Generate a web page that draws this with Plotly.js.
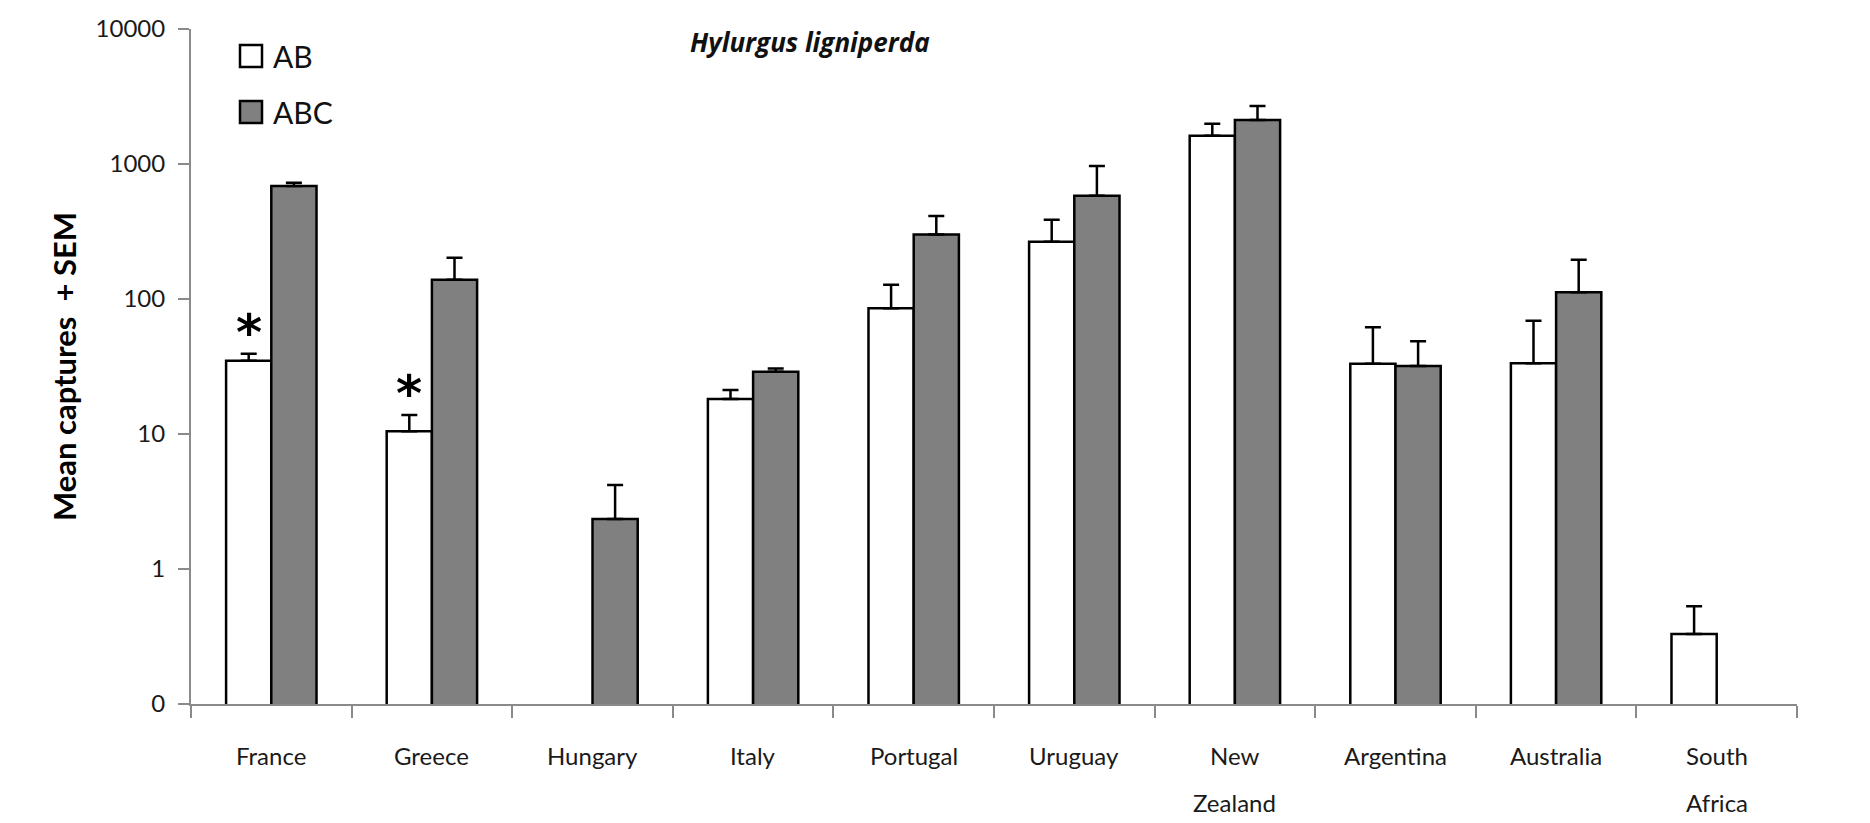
<!DOCTYPE html>
<html>
<head>
<meta charset="utf-8">
<script src="https://cdn.plot.ly/plotly-3.0.1.min.js"></script>
<style>
  html, body { margin: 0; padding: 0; background: #ffffff; }
  #chart { width: 1870px; height: 823px; }
</style>
</head>
<body>
<div id="chart"></div>
<script>
// ---- data ----
const categories = ["France", "Greece", "Hungary", "Italy", "Portugal", "Uruguay", "New Zealand", "Argentina", "Australia", "South Africa"];
const tickLabelLines = [["France"], ["Greece"], ["Hungary"], ["Italy"], ["Portugal"], ["Uruguay"], ["New", "Zealand"], ["Argentina"], ["Australia"], ["South", "Africa"]];
const abMean = [34.9, 10.5, null, 18.2, 85.3, 266, 1622, 33.2, 33.4, 0.33];
const abSem  = [4.4, 3.3, null, 3.0, 42, 121, 368, 28.5, 35.7, 0.2];
const abcMean = [687, 139, 2.35, 28.9, 301, 582, 2118, 31.9, 112, null];
const abcSem  = [40, 63, 1.84, 1.6, 111, 385, 572, 16.7, 83, null];
const yTickVals = [0.1, 1, 10, 100, 1000, 10000];
const yTickText = ["0", "1", "10", "100", "1000", "10000"];
const significant = ["France", "Greece"]; // AB marked with *
const seriesNames = ["AB", "ABC"];
const chartTitle = "Hylurgus ligniperda";
const yTitle = "Mean captures\u00a0 + SEM";

const FONT = "Lato, 'Noto Sans', sans-serif";
const AXIS = "#8a8a8a";

function zeros(arr) { return arr.map(v => (v === null ? null : 0)); }

const traceAB = {
  type: "bar", name: seriesNames[0], x: categories, y: abMean,
  marker: { color: "#ffffff", line: { color: "#000000", width: 2.5 } },
  error_y: { type: "data", symmetric: false, array: abSem, arrayminus: zeros(abSem),
             color: "#000000", thickness: 2.5, width: 8 },
  showlegend: false, hoverinfo: "x+y"
};
const traceABC = {
  type: "bar", name: seriesNames[1], x: categories, y: abcMean,
  marker: { color: "#808080", line: { color: "#000000", width: 2.5 } },
  error_y: { type: "data", symmetric: false, array: abcSem, arrayminus: zeros(abcSem),
             color: "#000000", thickness: 2.5, width: 8 },
  showlegend: false, hoverinfo: "x+y"
};

const W = 1870, H = 823;
const M = { l: 191, r: 73, t: 29, b: 119 };
const pw = W - M.l - M.r, ph = H - M.t - M.b;
function px(xp) { return (xp - M.l) / pw; }
function py(yp) { return (H - M.b - yp) / ph; }

const annotations = [];
const shapes = [];
// x category labels (multi-line with wide spacing)
tickLabelLines.forEach((lines, i) => {
  lines.forEach((line, j) => {
    annotations.push({
      x: categories[i], xref: "x", y: 0, yref: "paper",
      yanchor: "middle", xanchor: "center", yshift: -51 - j * 47,
      text: line, showarrow: false,
      font: { family: FONT, size: 24, color: "#1a1a1a" }
    });
  });
});
// significance asterisks above AB error bars
significant.forEach(c => {
  const i = categories.indexOf(c);
  annotations.push({
    x: c, xref: "x", xshift: -22.6,
    y: Math.log10(abMean[i] + abSem[i]), yref: "y",
    yanchor: "middle", xanchor: "center", yshift: 21,
    text: "*", showarrow: false,
    font: { family: "'DejaVu Sans', sans-serif", size: 50, color: "#000000", weight: "bold" }
  });
});
// title
annotations.push({
  x: px(810), xref: "paper", y: py(42), yref: "paper",
  xanchor: "center", yanchor: "middle",
  text: "<b><i>" + chartTitle + "</i></b>", showarrow: false,
  font: { family: "'Open Sans', sans-serif", size: 26, color: "#111111" }
});
// legend
const legendColors = ["#ffffff", "#808080"];
seriesNames.forEach((n, k) => {
  const cy = 56 + k * 56;
  annotations.push({
    xref: "paper", yref: "paper", x: px(271), y: py(cy), xanchor: "left", yanchor: "middle",
    text: n, showarrow: false,
    font: { family: FONT, size: 30, color: "#111111" }
  });
  shapes.push({ type: "rect", xref: "paper", yref: "paper",
    x0: px(240), x1: px(262), y0: py(cy + 11), y1: py(cy - 11),
    fillcolor: legendColors[k], line: { color: "#000000", width: 2.5 } });
});

const layout = {
  width: W, height: H,
  margin: M,
  paper_bgcolor: "#ffffff", plot_bgcolor: "#ffffff",
  barmode: "group", bargap: 0.437, bargroupgap: 0,
  showlegend: false,
  font: { family: FONT, color: "#1a1a1a" },
  xaxis: {
    type: "category", showgrid: false, zeroline: false,
    showline: true, linecolor: AXIS, linewidth: 2,
    ticks: "outside", tickson: "boundaries", ticklen: 12, tickwidth: 2, tickcolor: AXIS,
    showticklabels: false, fixedrange: true
  },
  yaxis: {
    type: "log", range: [-1, 4], showgrid: false, zeroline: false,
    showline: true, linecolor: AXIS, linewidth: 2,
    ticks: "outside", ticklen: 11, tickwidth: 2, tickcolor: AXIS,
    tickmode: "array", tickvals: yTickVals, ticktext: yTickText,
    ticklabelstandoff: 8,
    tickfont: { family: FONT, size: 24, color: "#1a1a1a" },
    title: { text: yTitle, standoff: 10, font: { family: FONT, size: 31, color: "#000000", weight: "bold" } },
    fixedrange: true
  },
  annotations: annotations,
  shapes: shapes
};

Plotly.newPlot("chart", [traceAB, traceABC], layout, { displayModeBar: false, staticPlot: true });
</script>
</body>
</html>
